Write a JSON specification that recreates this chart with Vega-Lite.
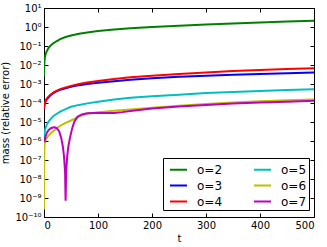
{
  "$schema": "https://vega.github.io/schema/vega-lite/v6.json",
  "width": 270,
  "height": 209,
  "autosize": {"type": "none"},
  "padding": {"left": 44, "top": 8, "right": 13, "bottom": 30},
  "background": "white",
  "config": {
    "view": {"stroke": "black", "strokeWidth": 1},
    "font": "DejaVu Sans",
    "axis": {
      "domain": false,
      "grid": false,
      "tickColor": "black",
      "tickSize": -4,
      "labelColor": "black",
      "labelFont": "DejaVu Sans",
      "labelFontSize": 10,
      "titleColor": "black",
      "titleFont": "DejaVu Sans",
      "titleFontSize": 10,
      "titleFontWeight": "normal"
    }
  },
  "data": {
    "values": [
      {"o": "o=2", "t": 0, "v": 2.512e-3},
      {"o": "o=2", "t": 0.5, "v": 1.0e-2},
      {"o": "o=2", "t": 1, "v": 1.778e-2},
      {"o": "o=2", "t": 2, "v": 2.818e-2},
      {"o": "o=2", "t": 3, "v": 3.802e-2},
      {"o": "o=2", "t": 5, "v": 5.248e-2},
      {"o": "o=2", "t": 8, "v": 7.586e-2},
      {"o": "o=2", "t": 12, "v": 0.1047},
      {"o": "o=2", "t": 17, "v": 0.1380},
      {"o": "o=2", "t": 23, "v": 0.1778},
      {"o": "o=2", "t": 30, "v": 0.2291},
      {"o": "o=2", "t": 40, "v": 0.2951},
      {"o": "o=2", "t": 50, "v": 0.3548},
      {"o": "o=2", "t": 65, "v": 0.4365},
      {"o": "o=2", "t": 80, "v": 0.5129},
      {"o": "o=2", "t": 100, "v": 0.6166},
      {"o": "o=2", "t": 130, "v": 0.7413},
      {"o": "o=2", "t": 160, "v": 0.8511},
      {"o": "o=2", "t": 200, "v": 1.0},
      {"o": "o=2", "t": 250, "v": 1.175},
      {"o": "o=2", "t": 300, "v": 1.349},
      {"o": "o=2", "t": 350, "v": 1.549},
      {"o": "o=2", "t": 400, "v": 1.738},
      {"o": "o=2", "t": 450, "v": 1.950},
      {"o": "o=2", "t": 500, "v": 2.138},

      {"o": "o=3", "t": 0, "v": 4.677e-5},
      {"o": "o=3", "t": 0.5, "v": 6.607e-5},
      {"o": "o=3", "t": 1, "v": 8.318e-5},
      {"o": "o=3", "t": 2, "v": 1.047e-4},
      {"o": "o=3", "t": 3, "v": 1.230e-4},
      {"o": "o=3", "t": 5, "v": 1.549e-4},
      {"o": "o=3", "t": 8, "v": 1.950e-4},
      {"o": "o=3", "t": 12, "v": 2.570e-4},
      {"o": "o=3", "t": 17, "v": 3.311e-4},
      {"o": "o=3", "t": 23, "v": 4.074e-4},
      {"o": "o=3", "t": 30, "v": 5.012e-4},
      {"o": "o=3", "t": 40, "v": 6.026e-4},
      {"o": "o=3", "t": 50, "v": 7.079e-4},
      {"o": "o=3", "t": 65, "v": 8.710e-4},
      {"o": "o=3", "t": 80, "v": 1.0e-3},
      {"o": "o=3", "t": 100, "v": 1.175e-3},
      {"o": "o=3", "t": 130, "v": 1.413e-3},
      {"o": "o=3", "t": 160, "v": 1.660e-3},
      {"o": "o=3", "t": 200, "v": 1.995e-3},
      {"o": "o=3", "t": 250, "v": 2.399e-3},
      {"o": "o=3", "t": 300, "v": 2.754e-3},
      {"o": "o=3", "t": 350, "v": 3.090e-3},
      {"o": "o=3", "t": 400, "v": 3.388e-3},
      {"o": "o=3", "t": 450, "v": 3.715e-3},
      {"o": "o=3", "t": 500, "v": 3.981e-3},

      {"o": "o=4", "t": 0, "v": 5.012e-5},
      {"o": "o=4", "t": 0.5, "v": 7.079e-5},
      {"o": "o=4", "t": 1, "v": 8.913e-5},
      {"o": "o=4", "t": 2, "v": 1.122e-4},
      {"o": "o=4", "t": 3, "v": 1.318e-4},
      {"o": "o=4", "t": 5, "v": 1.660e-4},
      {"o": "o=4", "t": 8, "v": 2.089e-4},
      {"o": "o=4", "t": 12, "v": 2.754e-4},
      {"o": "o=4", "t": 17, "v": 3.548e-4},
      {"o": "o=4", "t": 23, "v": 4.365e-4},
      {"o": "o=4", "t": 30, "v": 5.370e-4},
      {"o": "o=4", "t": 40, "v": 6.607e-4},
      {"o": "o=4", "t": 50, "v": 7.943e-4},
      {"o": "o=4", "t": 65, "v": 1.0e-3},
      {"o": "o=4", "t": 80, "v": 1.202e-3},
      {"o": "o=4", "t": 100, "v": 1.445e-3},
      {"o": "o=4", "t": 130, "v": 1.820e-3},
      {"o": "o=4", "t": 160, "v": 2.239e-3},
      {"o": "o=4", "t": 200, "v": 2.754e-3},
      {"o": "o=4", "t": 250, "v": 3.388e-3},
      {"o": "o=4", "t": 300, "v": 4.074e-3},
      {"o": "o=4", "t": 350, "v": 4.786e-3},
      {"o": "o=4", "t": 400, "v": 5.495e-3},
      {"o": "o=4", "t": 450, "v": 6.166e-3},
      {"o": "o=4", "t": 500, "v": 6.761e-3},

      {"o": "o=5", "t": 0, "v": 1.585e-6},
      {"o": "o=5", "t": 0.5, "v": 2.239e-6},
      {"o": "o=5", "t": 1, "v": 2.818e-6},
      {"o": "o=5", "t": 2, "v": 3.981e-6},
      {"o": "o=5", "t": 3, "v": 5.012e-6},
      {"o": "o=5", "t": 5, "v": 7.079e-6},
      {"o": "o=5", "t": 8, "v": 1.0e-5},
      {"o": "o=5", "t": 12, "v": 1.413e-5},
      {"o": "o=5", "t": 17, "v": 1.995e-5},
      {"o": "o=5", "t": 23, "v": 2.630e-5},
      {"o": "o=5", "t": 30, "v": 3.548e-5},
      {"o": "o=5", "t": 40, "v": 4.786e-5},
      {"o": "o=5", "t": 50, "v": 6.310e-5},
      {"o": "o=5", "t": 65, "v": 7.943e-5},
      {"o": "o=5", "t": 80, "v": 9.550e-5},
      {"o": "o=5", "t": 100, "v": 1.175e-4},
      {"o": "o=5", "t": 130, "v": 1.514e-4},
      {"o": "o=5", "t": 160, "v": 1.862e-4},
      {"o": "o=5", "t": 200, "v": 2.239e-4},
      {"o": "o=5", "t": 250, "v": 2.754e-4},
      {"o": "o=5", "t": 300, "v": 3.311e-4},
      {"o": "o=5", "t": 350, "v": 3.802e-4},
      {"o": "o=5", "t": 400, "v": 4.266e-4},
      {"o": "o=5", "t": 450, "v": 4.786e-4},
      {"o": "o=5", "t": 500, "v": 5.248e-4},

      {"o": "o=6", "t": 0, "v": 2.512e-10},
      {"o": "o=6", "t": 0.3, "v": 3.162e-8},
      {"o": "o=6", "t": 0.7, "v": 3.162e-7},
      {"o": "o=6", "t": 1, "v": 6.310e-7},
      {"o": "o=6", "t": 2, "v": 9.550e-7},
      {"o": "o=6", "t": 3, "v": 1.122e-6},
      {"o": "o=6", "t": 5, "v": 1.413e-6},
      {"o": "o=6", "t": 8, "v": 1.905e-6},
      {"o": "o=6", "t": 12, "v": 2.399e-6},
      {"o": "o=6", "t": 17, "v": 3.311e-6},
      {"o": "o=6", "t": 23, "v": 4.571e-6},
      {"o": "o=6", "t": 30, "v": 6.310e-6},
      {"o": "o=6", "t": 40, "v": 8.913e-6},
      {"o": "o=6", "t": 50, "v": 1.202e-5},
      {"o": "o=6", "t": 65, "v": 1.905e-5},
      {"o": "o=6", "t": 80, "v": 2.754e-5},
      {"o": "o=6", "t": 100, "v": 3.311e-5},
      {"o": "o=6", "t": 130, "v": 3.890e-5},
      {"o": "o=6", "t": 160, "v": 4.571e-5},
      {"o": "o=6", "t": 200, "v": 5.623e-5},
      {"o": "o=6", "t": 250, "v": 7.244e-5},
      {"o": "o=6", "t": 300, "v": 8.913e-5},
      {"o": "o=6", "t": 350, "v": 1.072e-4},
      {"o": "o=6", "t": 400, "v": 1.230e-4},
      {"o": "o=6", "t": 450, "v": 1.380e-4},
      {"o": "o=6", "t": 500, "v": 1.549e-4},

      {"o": "o=7", "t": 0, "v": 1.122e-6},
      {"o": "o=7", "t": 1, "v": 8.913e-7},
      {"o": "o=7", "t": 2, "v": 1.259e-6},
      {"o": "o=7", "t": 3, "v": 1.778e-6},
      {"o": "o=7", "t": 5, "v": 2.630e-6},
      {"o": "o=7", "t": 8, "v": 3.631e-6},
      {"o": "o=7", "t": 12, "v": 4.571e-6},
      {"o": "o=7", "t": 16, "v": 5.129e-6},
      {"o": "o=7", "t": 20, "v": 5.248e-6},
      {"o": "o=7", "t": 24, "v": 4.677e-6},
      {"o": "o=7", "t": 28, "v": 3.311e-6},
      {"o": "o=7", "t": 32, "v": 1.413e-6},
      {"o": "o=7", "t": 35, "v": 5.012e-7},
      {"o": "o=7", "t": 37, "v": 1.585e-7},
      {"o": "o=7", "t": 39, "v": 2.512e-8},
      {"o": "o=7", "t": 40, "v": 7.079e-10},
      {"o": "o=7", "t": 41, "v": 2.512e-8},
      {"o": "o=7", "t": 43, "v": 1.585e-7},
      {"o": "o=7", "t": 45, "v": 5.012e-7},
      {"o": "o=7", "t": 48, "v": 1.413e-6},
      {"o": "o=7", "t": 52, "v": 4.467e-6},
      {"o": "o=7", "t": 56, "v": 1.0e-5},
      {"o": "o=7", "t": 62, "v": 1.905e-5},
      {"o": "o=7", "t": 70, "v": 2.512e-5},
      {"o": "o=7", "t": 80, "v": 2.884e-5},
      {"o": "o=7", "t": 90, "v": 3.020e-5},
      {"o": "o=7", "t": 100, "v": 3.020e-5},
      {"o": "o=7", "t": 115, "v": 2.951e-5},
      {"o": "o=7", "t": 130, "v": 3.020e-5},
      {"o": "o=7", "t": 145, "v": 3.311e-5},
      {"o": "o=7", "t": 160, "v": 3.802e-5},
      {"o": "o=7", "t": 180, "v": 4.467e-5},
      {"o": "o=7", "t": 200, "v": 5.129e-5},
      {"o": "o=7", "t": 250, "v": 6.607e-5},
      {"o": "o=7", "t": 300, "v": 7.943e-5},
      {"o": "o=7", "t": 350, "v": 9.333e-5},
      {"o": "o=7", "t": 400, "v": 1.047e-4},
      {"o": "o=7", "t": 450, "v": 1.175e-4},
      {"o": "o=7", "t": 500, "v": 1.318e-4}
    ]
  },
  "layer": [
    {
      "mark": {"type": "line", "strokeWidth": 2, "clip": true},
      "encoding": {
        "x": {
          "field": "t",
          "type": "quantitative",
          "scale": {"domain": [0, 500], "nice": false},
          "axis": {"values": [0, 100, 200, 300, 400, 500], "title": "t", "labelPadding": 7, "titlePadding": 3}
        },
        "y": {
          "field": "v",
          "type": "quantitative",
          "scale": {"type": "log", "domain": [1e-10, 10], "nice": false},
          "axis": {
            "values": [1e-10, 1e-9, 1e-8, 1e-7, 1e-6, 1e-5, 1e-4, 1e-3, 1e-2, 1e-1, 1, 10],
            "labelExpr": "'10' + ['⁻¹⁰','⁻⁹','⁻⁸','⁻⁷','⁻⁶','⁻⁵','⁻⁴','⁻³','⁻²','⁻¹','⁰','¹'][round(log(datum.value)/LN10) + 10]",
            "title": "mass (relative error)",
            "labelPadding": 7,
            "titlePadding": 4
          }
        },
        "color": {
          "field": "o",
          "type": "nominal",
          "scale": {
            "domain": ["o=2", "o=3", "o=4", "o=5", "o=6", "o=7"],
            "range": ["#008000", "#0000ff", "#ff0000", "#00bfbf", "#bfbf00", "#bf00bf"]
          },
          "legend": {
            "title": null,
            "orient": "none",
            "legendX": 119,
            "legendY": 150,
            "columns": 2,
            "symbolType": "stroke",
            "symbolStrokeWidth": 2,
            "symbolSize": 289,
            "symbolOffset": 4,
            "labelFontSize": 12,
            "labelFont": "DejaVu Sans",
            "labelColor": "black",
            "labelOffset": 9,
            "columnPadding": 26,
            "rowPadding": 0,
            "padding": 2,
            "fillColor": "white",
            "strokeColor": "black",
            "cornerRadius": 0
          }
        }
      }
    },
    {
      "mark": {"type": "line", "opacity": 0},
      "encoding": {
        "x": {
          "field": "t",
          "type": "quantitative",
          "axis": {"orient": "top", "values": [0, 100, 200, 300, 400, 500], "labels": false, "title": null}
        },
        "y": {
          "field": "v",
          "type": "quantitative",
          "axis": {"orient": "right", "values": [1e-10, 1e-9, 1e-8, 1e-7, 1e-6, 1e-5, 1e-4, 1e-3, 1e-2, 1e-1, 1, 10], "labels": false, "title": null}
        },
        "detail": {"field": "o"}
      }
    }
  ],
  "resolve": {"axis": {"x": "independent", "y": "independent"}}
}
